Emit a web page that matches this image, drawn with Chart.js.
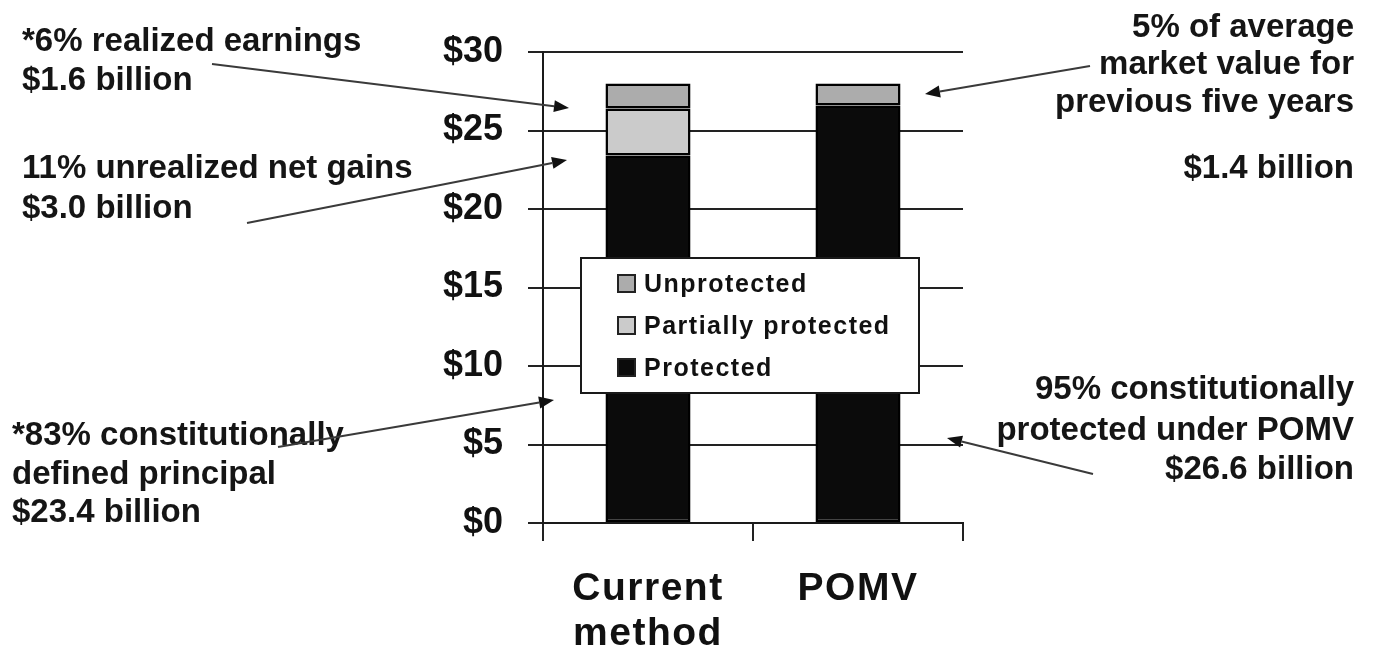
<!DOCTYPE html>
<html>
<head>
<meta charset="utf-8">
<script src="https://cdn.jsdelivr.net/npm/chart.js@4.4.1/dist/chart.umd.min.js"></script>
<style>
  html, body { margin: 0; padding: 0; background: #ffffff; }
  #wrap { position: relative; width: 1378px; height: 653px; }
  canvas { display: block; }
</style>
</head>
<body>
<div id="wrap"><canvas id="c" width="1378" height="653"></canvas></div>
<script>
// ---- data ----
const categories = [['Current', 'method'], 'POMV'];
const seriesNames = ['Protected', 'Partially protected', 'Unprotected'];
const protectedValues = [23.4, 26.6];
const partialValues = [3.0, 0];
const unprotectedValues = [1.6, 1.4];
const yTickValues = [0, 5, 10, 15, 20, 25, 30];
const tickPrefix = '$';

// ---- annotations (text + arrows, page pixels) ----
const leftNotes = [
  { text: '*6% realized earnings', x: 22, y: 51 },
  { text: '$1.6 billion', x: 22, y: 90 },
  { text: '11% unrealized net gains', x: 22, y: 178 },
  { text: '$3.0 billion', x: 22, y: 218 },
  { text: '*83% constitutionally', x: 12, y: 445 },
  { text: 'defined principal', x: 12, y: 484 },
  { text: '$23.4 billion', x: 12, y: 522 }
];
const rightNotes = [
  { text: '5% of average', x: 1354, y: 37 },
  { text: 'market value for', x: 1354, y: 74 },
  { text: 'previous five years', x: 1354, y: 112 },
  { text: '$1.4 billion', x: 1354, y: 178 },
  { text: '95% constitutionally', x: 1354, y: 399 },
  { text: 'protected under POMV', x: 1354, y: 440 },
  { text: '$26.6 billion', x: 1354, y: 479 }
];
const arrows = [
  { from: [212, 64], to: [569, 108] },
  { from: [247, 223], to: [567, 160] },
  { from: [278, 447], to: [554, 400] },
  { from: [1090, 66], to: [925, 94] },
  { from: [1093, 474], to: [947, 438] }
];

const FONT = '"Liberation Sans", Arial, Helvetica, sans-serif';
Chart.defaults.font.family = FONT;
Chart.defaults.color = '#111111';

const colors = {
  'Protected': '#0b0b0b',
  'Partially protected': '#cbcbcb',
  'Unprotected': '#acacac'
};

const spacingPlugin = {
  id: 'spacing',
  afterDatasetsDraw(chart) {
    chart.ctx.letterSpacing = '1.5px';
  },
  afterDraw(chart) {
    chart.ctx.letterSpacing = '0px';
  }
};

function drawArrow(ctx, a) {
  const [x1, y1] = a.from, [x2, y2] = a.to;
  const ang = Math.atan2(y2 - y1, x2 - x1);
  const len = 15, half = 6;
  const bx = x2 - len * Math.cos(ang), by = y2 - len * Math.sin(ang);
  ctx.save();
  ctx.strokeStyle = '#3a3a3a';
  ctx.lineWidth = 2;
  ctx.beginPath();
  ctx.moveTo(x1, y1);
  ctx.lineTo(bx, by);
  ctx.stroke();
  ctx.fillStyle = '#111111';
  ctx.beginPath();
  ctx.moveTo(x2, y2);
  ctx.lineTo(bx + half * Math.sin(ang), by - half * Math.cos(ang));
  ctx.lineTo(bx - half * Math.sin(ang), by + half * Math.cos(ang));
  ctx.closePath();
  ctx.fill();
  ctx.restore();
}

const overlayPlugin = {
  id: 'overlay',
  afterDraw(chart) {
    const ctx = chart.ctx;
    // legend box
    const box = { x: 581, y: 258, w: 338, h: 135 };
    ctx.save();
    ctx.fillStyle = '#ffffff';
    ctx.fillRect(box.x, box.y, box.w, box.h);
    ctx.strokeStyle = '#1a1a1a';
    ctx.lineWidth = 2;
    ctx.strokeRect(box.x, box.y, box.w, box.h);
    const items = chart.data.datasets.slice().reverse();
    ctx.font = 'bold 25px ' + FONT;
    ctx.letterSpacing = '1.5px';
    ctx.textBaseline = 'middle';
    ctx.textAlign = 'left';
    items.forEach((ds, i) => {
      const cy = 284 + i * 42;
      ctx.fillStyle = ds.backgroundColor;
      ctx.fillRect(618, cy - 9, 17, 17);
      ctx.strokeStyle = '#222222';
      ctx.lineWidth = 2;
      ctx.strokeRect(618, cy - 9, 17, 17);
      ctx.fillStyle = '#111111';
      ctx.fillText(ds.label, 644, cy + 1);
    });
    ctx.letterSpacing = '0px';
    // annotation text
    ctx.font = 'bold 33px ' + FONT;
    ctx.textBaseline = 'alphabetic';
    ctx.fillStyle = '#151515';
    ctx.textAlign = 'left';
    leftNotes.forEach(n => ctx.fillText(n.text, n.x, n.y));
    ctx.textAlign = 'right';
    rightNotes.forEach(n => ctx.fillText(n.text, n.x, n.y));
    ctx.restore();
    arrows.forEach(a => drawArrow(ctx, a));
  }
};

new Chart(document.getElementById('c'), {
  type: 'bar',
  data: {
    labels: categories,
    datasets: [
      { label: seriesNames[0], data: protectedValues, backgroundColor: colors['Protected'] },
      { label: seriesNames[1], data: partialValues, backgroundColor: colors['Partially protected'] },
      { label: seriesNames[2], data: unprotectedValues, backgroundColor: colors['Unprotected'] }
    ]
  },
  options: {
    responsive: false,
    animation: false,
    devicePixelRatio: 1,
    layout: { padding: { top: 52, left: 0, right: 415, bottom: 0 } },
    datasets: {
      bar: {
        borderColor: '#000000',
        borderWidth: 2.5,
        borderSkipped: false,
        categoryPercentage: 1.0,
        barPercentage: 0.405
      }
    },
    plugins: {
      legend: { display: false },
      tooltip: { enabled: false },
      title: { display: false }
    },
    scales: {
      x: {
        stacked: true,
        afterFit(scale) { scale.height = 130; },
        grid: {
          display: true,
          drawOnChartArea: false,
          drawTicks: true,
          tickLength: 18,
          offset: true,
          color: '#222222',
          lineWidth: 2
        },
        border: { display: true, color: '#1a1a1a', width: 2 },
        ticks: {
          z: 1,
          padding: 26,
          maxRotation: 0,
          autoSkip: false,
          color: '#111111',
          font: { size: 39, weight: 'bold', lineHeight: 1.15 }
        }
      },
      y: {
        stacked: true,
        min: 0,
        max: 30,
        afterFit(scale) { scale.width = 543; },
        afterBuildTicks(scale) { scale.ticks = yTickValues.map(v => ({ value: v })); },
        grid: {
          color: '#222222',
          lineWidth: 2,
          drawTicks: true,
          tickLength: 15
        },
        border: { display: true, color: '#1a1a1a', width: 2 },
        ticks: {
          padding: 25,
          color: '#111111',
          font: { size: 36, weight: 'bold' },
          callback: (v) => tickPrefix + v
        }
      }
    }
  },
  plugins: [spacingPlugin, overlayPlugin]
});
</script>
</body>
</html>
